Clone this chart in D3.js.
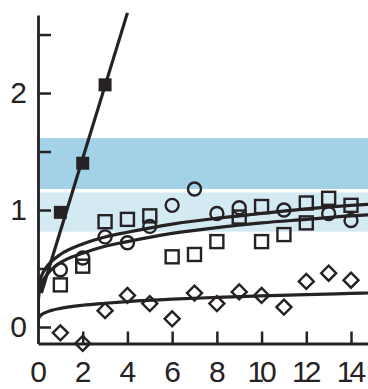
<!DOCTYPE html>
<html>
<head>
<meta charset="utf-8">
<script src="https://cdn.jsdelivr.net/npm/d3@7"></script>
<style>
  html, body { margin: 0; padding: 0; background: #fff; }
  svg { display: block; }
  text { font-family: "Liberation Sans", Arial, Helvetica, sans-serif; }
</style>
</head>
<body>
<svg id="chart" width="368" height="389"></svg>
<script>
// ---- data ----
const xTickLabels = [0, 2, 4, 6, 8, 10, 12, 14];
const xTickMarks  = [2, 4, 6, 8, 10, 12, 14];
const yTickMarks  = [0, 0.5, 1, 1.5, 2, 2.5];
const yTickLabels = [0, 1, 2];

// shaded reference ranges
const bandDark  = [1.18, 1.615];
const bandLight = [0.815, 1.15];

// filled squares
const filledX = [1, 2, 3];
const filledY = [0.98, 1.40, 2.07];

// open squares
const squareX = [1, 2, 3, 4, 5, 6, 7, 8, 9, 10, 10, 11, 12, 12, 13, 14];
const squareY = [0.36, 0.52, 0.90, 0.92, 0.95, 0.60, 0.62, 0.73, 0.94, 0.73, 1.03, 0.79, 0.89, 1.06, 1.10, 1.04];

// open circles
const circleX = [1, 2, 3, 4, 5, 6, 7, 8, 9, 11, 13, 14];
const circleY = [0.49, 0.59, 0.77, 0.72, 0.86, 1.04, 1.18, 0.97, 1.02, 1.00, 0.97, 0.91];

// open diamonds
const diamondX = [1, 2, 3, 4, 5, 6, 7, 8, 9, 10, 11, 12, 13, 14];
const diamondY = [-0.05, -0.14, 0.14, 0.27, 0.20, 0.07, 0.29, 0.20, 0.30, 0.27, 0.17, 0.39, 0.46, 0.40];

// straight fit through the filled squares
const fitLineX = [0.15, 4.0];
const fitLineY = [0.29, 2.685];

// saturating fit curves
const curveX  = [0, 0.02, 0.1, 0.3, 0.6, 1, 2, 3, 4, 6, 8, 10, 12, 14, 15];
const curveAY = [0, 0.29, 0.40, 0.49, 0.56, 0.62, 0.71, 0.77, 0.81, 0.88, 0.93, 0.97, 1.01, 1.04, 1.05];
const curveBY = [0, 0.24, 0.34, 0.42, 0.49, 0.55, 0.63, 0.69, 0.73, 0.80, 0.85, 0.89, 0.92, 0.95, 0.96];
const curveCY = [0, 0.066, 0.095, 0.121, 0.142, 0.159, 0.186, 0.203, 0.217, 0.238, 0.253, 0.266, 0.277, 0.287, 0.292];

// ---- drawing ----
const ink = "#262223";
const svg = d3.select("#chart");

const x = d3.scaleLinear().domain([0, 14.76]).range([38, 368]);
const y = d3.scaleLinear().domain([-0.141, 2.667]).range([343.5, 15]);

const zip = (xs, ys) => xs.map((v, i) => ({ x: v, y: ys[i] }));

// shaded bands
const bands = [
  { r: bandDark,  c: "#a3d1e8" },
  { r: bandLight, c: "#d4eaf3" }
];
svg.append("g").selectAll("rect").data(bands).join("rect")
  .attr("x", x(0) + 1)
  .attr("width", x.range()[1] - x(0) - 1)
  .attr("y", d => y(d.r[1]))
  .attr("height", d => y(d.r[0]) - y(d.r[1]))
  .attr("fill", d => d.c);

// axes
const yAxis = d3.axisLeft(y)
  .tickValues(yTickMarks)
  .tickSizeInner(-13)
  .tickSizeOuter(0)
  .tickPadding(11)
  .tickFormat(d => yTickLabels.includes(d) ? String(d) : "");
const gy = svg.append("g").attr("transform", `translate(${x(0)},0)`).call(yAxis);

const xAxis = d3.axisBottom(x)
  .tickValues(xTickLabels)
  .tickSizeInner(-12)
  .tickSizeOuter(0)
  .tickPadding(17)
  .tickFormat(d => String(d));
const gx = svg.append("g").attr("transform", `translate(0,${y.range()[0]})`).call(xAxis);
gx.selectAll(".tick line").attr("display", d => xTickMarks.includes(d) ? null : "none");

[gx, gy].forEach(g => {
  g.select(".domain").attr("stroke", ink).attr("stroke-width", 2.8);
  g.selectAll(".tick line").attr("stroke", ink).attr("stroke-width", 2.5);
  g.selectAll(".tick text")
    .attr("fill", ink)
    .attr("font-size", 30)
    .attr("font-family", "'Liberation Sans', Arial, sans-serif");
});
gx.selectAll(".tick text").attr("letter-spacing", d => d >= 10 ? "-4px" : null)
  .attr("dx", d => d >= 10 ? "-2px" : null);

// fit lines and curves
const line = d3.line().x(d => x(d.x)).y(d => y(d.y));
const smooth = d3.line().x(d => x(d.x)).y(d => y(d.y)).curve(d3.curveMonotoneX);

svg.append("clipPath").attr("id", "plot")
  .append("rect").attr("x", x(0)).attr("y", 0).attr("width", 368 - x(0)).attr("height", y.range()[0]);

const fits = svg.append("g").attr("clip-path", "url(#plot)")
  .attr("fill", "none").attr("stroke", ink).attr("stroke-width", 3.2);
[curveAY, curveBY, curveCY].forEach(cy => {
  fits.append("path").attr("d", smooth(zip(curveX, cy)));
});
fits.append("path").attr("d", line(zip(fitLineX, fitLineY)));

// markers
const mk = svg.append("g").attr("stroke", ink).attr("stroke-width", 2.4);

mk.selectAll("rect.open").data(zip(squareX, squareY)).join("rect")
  .attr("class", "open")
  .attr("x", d => x(d.x) - 6.5).attr("y", d => y(d.y) - 6.5)
  .attr("width", 13).attr("height", 13)
  .attr("fill", "none");

mk.selectAll("circle").data(zip(circleX, circleY)).join("circle")
  .attr("cx", d => x(d.x)).attr("cy", d => y(d.y)).attr("r", 6.5)
  .attr("fill", "none");

mk.selectAll("path.diamond").data(zip(diamondX, diamondY)).join("path")
  .attr("class", "diamond")
  .attr("d", d => {
    const cx = x(d.x), cy = y(d.y), r = 7.5;
    return `M${cx},${cy - r}L${cx + r},${cy}L${cx},${cy + r}L${cx - r},${cy}Z`;
  })
  .attr("fill", "none");

mk.selectAll("rect.filled").data(zip(filledX, filledY)).join("rect")
  .attr("class", "filled")
  .attr("x", d => x(d.x) - 6.5).attr("y", d => y(d.y) - 6.5)
  .attr("width", 13).attr("height", 13)
  .attr("fill", ink).attr("stroke", "none");
</script>
</body>
</html>
